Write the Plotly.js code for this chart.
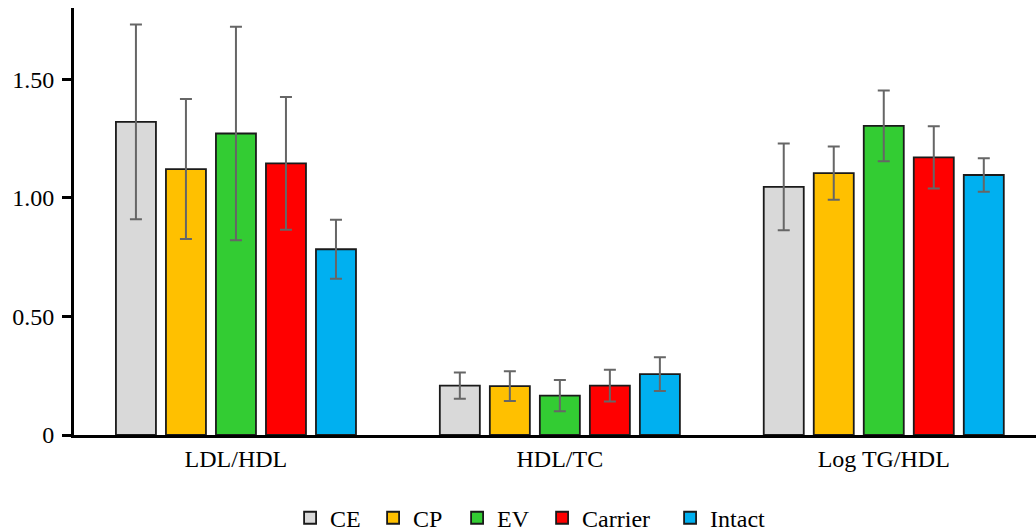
<!DOCTYPE html>
<html>
<head>
<meta charset="utf-8">
<script src="https://cdn.plot.ly/plotly-3.0.1.min.js"></script>
<style>html,body{margin:0;padding:0;background:#fff;}#chart{width:1036px;height:532px;}</style>
</head>
<body>
<div id="chart"></div>
<script>
const categories = ["LDL/HDL", "HDL/TC", "Log TG/HDL"];
const seriesNames = ["CE", "CP", "EV", "Carrier", "Intact"];
const seriesColors = ["#d9d9d9", "#ffc000", "#33cc33", "#ff0000", "#00b0f0"];
const ceValues = [1.32, 0.208, 1.046];
const ceErrors = [0.41, 0.055, 0.183];
const cpValues = [1.121, 0.206, 1.104];
const cpErrors = [0.295, 0.063, 0.112];
const evValues = [1.271, 0.166, 1.303];
const evErrors = [0.45, 0.066, 0.149];
const carrierValues = [1.145, 0.208, 1.170];
const carrierErrors = [0.28, 0.067, 0.131];
const intactValues = [0.783, 0.257, 1.096];
const intactErrors = [0.124, 0.071, 0.071];
const yTickVals = [0, 0.5, 1.0, 1.5];
const yTickText = ["0", "0.50", "1.00", "1.50"];

const allValues = [ceValues, cpValues, evValues, carrierValues, intactValues];
const allErrors = [ceErrors, cpErrors, evErrors, carrierErrors, intactErrors];
const legendWidths = [38, 39, 40, 83, 60];

const FONT = "Times New Roman";

const traces = seriesNames.map((name, i) => ({
  type: "bar",
  name: name,
  x: categories,
  y: allValues[i],
  legendwidth: legendWidths[i],
  marker: { color: seriesColors[i], line: { color: "#1a1a1a", width: 1.8 } },
  error_y: { type: "data", array: allErrors[i], visible: true, color: "#666666", thickness: 2, width: 6 }
}));

const layout = {
  width: 1036,
  height: 532,
  margin: { l: 74, r: 0, t: 8, b: 97 },
  paper_bgcolor: "#ffffff",
  plot_bgcolor: "#ffffff",
  font: { family: FONT, size: 24, color: "#000000" },
  barmode: "group",
  bargap: 0.228,
  bargroupgap: 0.2,
  showlegend: true,
  legend: {
    orientation: "h",
    xref: "container", yref: "container",
    x: 0.28, xanchor: "left",
    y: 0.026, yanchor: "middle",
    font: { family: FONT, size: 24, color: "#000" },
    itemclick: false
  },
  xaxis: {
    type: "category",
    range: [-0.5, 2.47],
    showline: true, linecolor: "#000", linewidth: 3,
    ticks: "", showgrid: false, zeroline: false,
    tickfont: { family: FONT, size: 24, color: "#000" }
  },
  yaxis: {
    range: [0, 1.8],
    tickvals: yTickVals, ticktext: yTickText,
    showline: true, linecolor: "#000", linewidth: 3,
    ticks: "outside", ticklen: 9, tickwidth: 3, tickcolor: "#000",
    ticklabelstandoff: 3,
    showgrid: false, zeroline: false,
    tickfont: { family: FONT, size: 24, color: "#000" }
  }
};

Plotly.newPlot("chart", traces, layout, { staticPlot: true, displayModeBar: false });
</script>
</body>
</html>
